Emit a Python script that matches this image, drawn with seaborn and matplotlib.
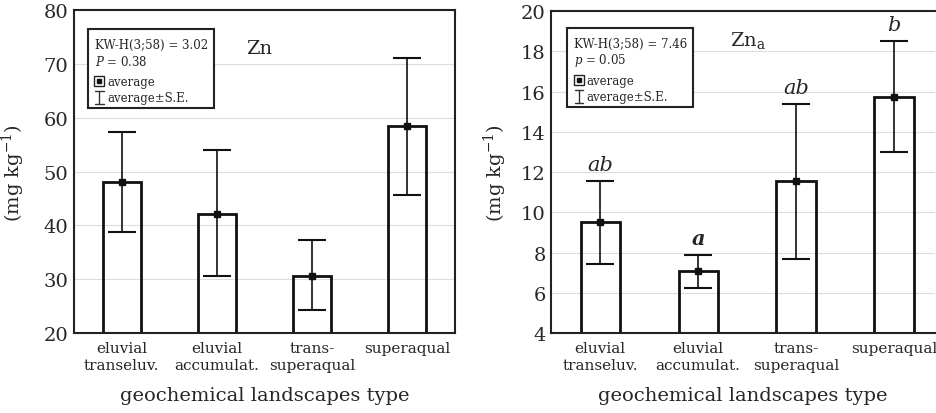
import numpy as np
import pandas as pd
import matplotlib
matplotlib.use("Agg")
import matplotlib.pyplot as plt
from matplotlib.patches import Rectangle
from matplotlib.lines import Line2D
import seaborn as sns

categories = ["eluvial\ntranseluv.", "eluvial\naccumulat.", "trans-\nsuperaqual", "superaqual"]

zn_mean = [48.1, 42.2, 30.7, 58.4]
zn_upper = [57.4, 54.1, 37.3, 71.2]
zn_lower = [38.8, 30.6, 24.2, 45.7]

zna_mean = [9.5, 7.1, 11.55, 15.75]
zna_upper = [11.55, 7.9, 15.4, 18.5]
zna_lower = [7.45, 6.25, 7.7, 13.0]
zna_letters = ["ab", "a", "ab", "b"]

sns.set_theme(style="white")
plt.rcParams["font.family"] = ["DejaVu Serif"]
plt.rcParams["mathtext.fontset"] = "dejavuserif"

fig = plt.figure(figsize=(9.36, 4.14), dpi=100)
ax1 = fig.add_axes([0.079, 0.193, 0.407, 0.780])
ax2 = fig.add_axes([0.589, 0.193, 0.410, 0.778])


def draw_panel(ax, mean, lower, upper, ylim, yticks, label_x):
    df = pd.DataFrame({"type": categories, "value": mean})
    sns.barplot(data=df, x="type", y="value", ax=ax, width=0.4, fill=False,
                edgecolor="#111111", linewidth=2.0, errorbar=None)
    x = np.arange(len(mean))
    m = np.array(mean)
    yerr = [m - np.array(lower), np.array(upper) - m]
    ax.errorbar(x, m, yerr=yerr, fmt="s", color="#111111", ms=4,
                elinewidth=1.2, capsize=10, capthick=1.5, zorder=5)
    ax.set_ylim(*ylim)
    ax.set_yticks(yticks)
    ax.yaxis.grid(True, color="#dddddd", linewidth=0.8)
    ax.set_axisbelow(True)
    ax.tick_params(axis="y", labelsize=14, length=0, pad=4)
    ax.tick_params(axis="x", labelsize=11, length=0, pad=6)
    for lab in ax.get_xticklabels():
        lab.set_verticalalignment("top")
    ax.set_xlabel("geochemical landscapes type", fontsize=14, labelpad=10)
    ax.set_ylabel(r"(mg kg$^{-1}$)", fontsize=14)
    ax.yaxis.set_label_coords(label_x, 0.5)
    for s in ax.spines.values():
        s.set_color("#222222")
        s.set_linewidth(1.5)


def draw_box(ax, x0, x1, y0, y1, line1, line2):
    ax.add_patch(Rectangle((x0, y0), x1 - x0, y1 - y0, transform=ax.transAxes,
                           fill=True, facecolor="white", edgecolor="#222222",
                           linewidth=1.5, zorder=6))
    tx = x0 + 0.018
    h = y1 - y0
    ax.text(tx, y1 - 0.19 * h, line1, transform=ax.transAxes, fontsize=8.5,
            va="center", ha="left", zorder=7)
    ax.text(tx, y1 - 0.40 * h, line2, transform=ax.transAxes, fontsize=8.5,
            va="center", ha="left", zorder=7)
    mx = x0 + 0.03
    my = y1 - 0.66 * h
    ax.plot([mx], [my], "s", transform=ax.transAxes, ms=7, mfc="white",
            mec="#222222", mew=1.0, zorder=7)
    ax.plot([mx], [my], "s", transform=ax.transAxes, ms=3, color="#111111", zorder=8)
    ax.text(mx + 0.02, my, "average", transform=ax.transAxes, fontsize=8.5,
            va="center", ha="left", zorder=7)
    ey = y1 - 0.87 * h
    d = 0.02
    segs = [([mx, mx], [ey - d, ey + d]),
            ([mx - 0.011, mx + 0.011], [ey - d, ey - d]),
            ([mx - 0.011, mx + 0.011], [ey + d, ey + d])]
    for xs, ys in segs:
        ax.add_line(Line2D(xs, ys, transform=ax.transAxes,
                           color="#333333", linewidth=1.0, zorder=7))
    ax.text(mx + 0.02, ey, "average±S.E.", transform=ax.transAxes, fontsize=8.5,
            va="center", ha="left", zorder=7)


draw_panel(ax1, zn_mean, zn_lower, zn_upper, (20, 80), range(20, 81, 10), -0.124)
ax1.set_xlim(-0.5, 3.5)
draw_box(ax1, 0.037, 0.367, 0.697, 0.941, "KW-H(3;58) = 3.02", r"$P$ = 0.38")
ax1.text(1.44, 0.882, "Zn", transform=ax1.get_xaxis_transform(), fontsize=14,
         ha="center", va="center")

draw_panel(ax2, zna_mean, zna_lower, zna_upper, (4, 20), range(4, 21, 2), -0.109)
ax2.set_xlim(-0.5, 3.42)
ax2.spines["right"].set_visible(False)
draw_box(ax2, 0.042, 0.370, 0.702, 0.947, "KW-H(3;58) = 7.46", r"$p$ = 0.05")
ax2.text(1.51, 0.913, r"Zn$_\mathregular{a}$", transform=ax2.get_xaxis_transform(),
         fontsize=14, ha="center", va="center")
for i, letter in enumerate(zna_letters):
    ax2.text(i, zna_upper[i] + 0.35, letter, fontsize=15, style="italic",
             weight="bold" if letter == "a" else "normal",
             ha="center", va="bottom")

fig.savefig("out.png", dpi=100)
